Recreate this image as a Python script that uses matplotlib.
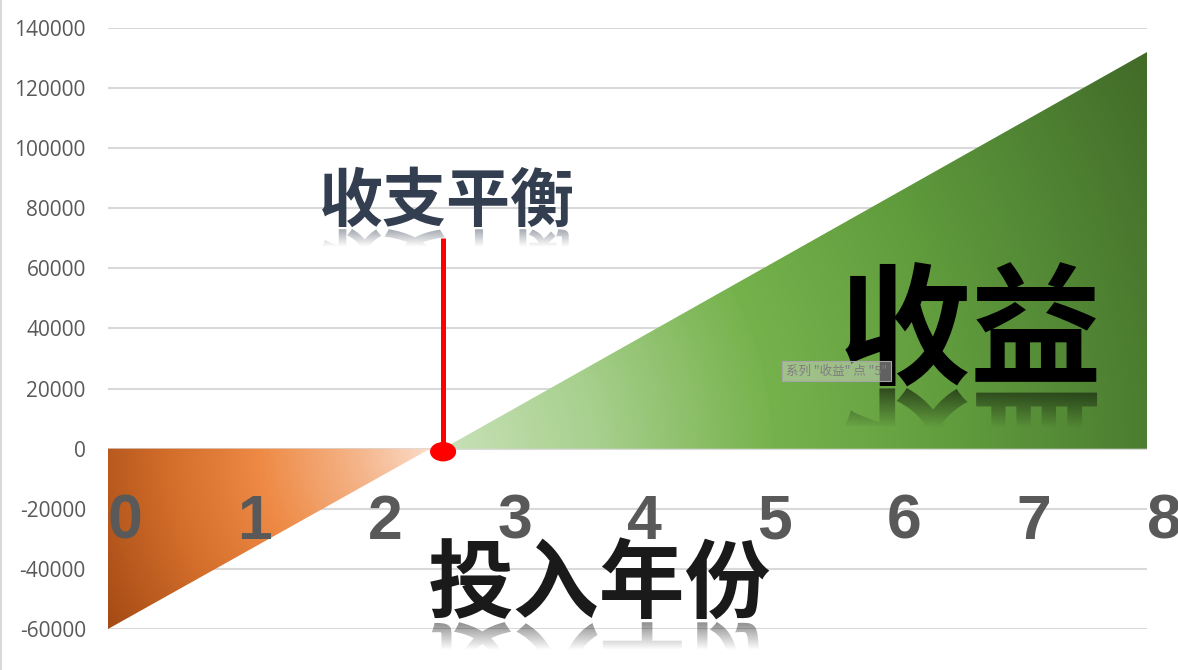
import numpy as np
import matplotlib.pyplot as plt
from matplotlib.colors import LinearSegmentedColormap, to_rgb
from matplotlib.font_manager import FontProperties
from matplotlib.patches import Ellipse, PathPatch, Polygon
from matplotlib.textpath import TextPath
from matplotlib.transforms import Affine2D, ScaledTranslation

plt.rcParams["font.family"] = ["Noto Sans CJK SC", "DejaVu Sans"]

# data
years = [0, 1, 2, 3, 4, 5, 6, 7, 8]
year_labels = ["0", "1", "2", "3", "4", "5", "6", "7", "8"]
cost_years = [0, 2.48]
cost_values = [-60000, 0]
gain_years = [2.58, 8]
gain_values = [0, 132000]
break_even_year = 2.58
break_even_top = 70000
y_ticks = [-60000, -40000, -20000, 0, 20000, 40000, 60000, 80000, 100000, 120000, 140000]

W, H = 1178, 670
DPI = 100
fig = plt.figure(figsize=(W / DPI, H / DPI), dpi=DPI)
ax = fig.add_axes([108 / W, 41 / H, 1039 / W, 601 / H])
ax.set_xlim(0, 8)
ax.set_ylim(-60000, 140000)
ax.set_yticks(y_ticks, labels=[str(v) for v in y_ticks],
              fontfamily="Open Sans", fontsize=15, color="#595959")
ax.tick_params(axis="y", length=0, pad=16)
ax.set_xticks([])
for sp in ax.spines.values():
    sp.set_visible(False)
ax.grid(axis="y", color="#D9D9D9", lw=1.5)
ax.set_axisbelow(True)


def radial_fill(verts, center, stops, zorder=2):
    poly = Polygon(verts, closed=True, facecolor="none", edgecolor="none")
    ax.add_patch(poly)
    x0, y0 = ax.transAxes.transform((0, 0))
    x1, y1 = ax.transAxes.transform((1, 1))
    nx, ny = int(x1 - x0), int(y1 - y0)
    gx, gy = np.meshgrid(np.linspace(x0, x1, nx), np.linspace(y1, y0, ny))
    cx, cy = ax.transData.transform(center)
    dmax = stops[-1][0]
    d = np.clip(np.hypot(gx - cx, gy - cy) / dmax, 0, 1)
    cmap = LinearSegmentedColormap.from_list("fill", [(p / dmax, c) for p, c in stops])
    im = ax.imshow(cmap(d), extent=(0, 8, -60000, 140000), origin="upper",
                   aspect="auto", interpolation="bilinear", zorder=zorder)
    im.set_clip_path(poly)


orange_stops = [(0, "#FBDCC8"), (70, "#F5B68C"), (170, "#EE8A45"),
                (260, "#D46E2B"), (370, "#A44A15")]
green_stops = [(0, "#C8E2B8"), (150, "#A8D08E"), (330, "#76B24C"),
               (500, "#629E3E"), (680, "#4E8132"), (810, "#426A28")]

radial_fill(list(zip(cost_years, cost_values)) + [(cost_years[0], 0)],
            (cost_years[-1], 0), orange_stops)
radial_fill(list(zip(gain_years, gain_values)) + [(gain_years[-1], 0)],
            (gain_years[0], 0), green_stops)

# break-even marker
ax.plot([break_even_year, break_even_year], [0, break_even_top],
        color="red", lw=3.6, solid_capstyle="butt", zorder=5)
ax.add_patch(Ellipse((break_even_year, -1000), 0.19, 6000, color="red", zorder=6))

# big year labels, shifted a bit right of each category
shift = ScaledTranslation(17 / DPI, 0, fig.dpi_scale_trans)
for yr, lab in zip(years, year_labels):
    ax.text(yr, -30000, lab, transform=ax.transData + shift, ha="center",
            va="baseline", fontsize=45, fontweight="bold", family="Liberation Sans",
            color="#595959", zorder=7, clip_on=False)

# overlay in pixel coords for the word art
ov = fig.add_axes([0, 0, 1, 1], zorder=10)
ov.axis("off")


def word_art(s, left, bottom, width, color, fade_len, fade_alpha, gap=2):
    prop = FontProperties(family="Noto Sans CJK SC", weight="bold")
    tp = TextPath((0, 0), s, size=100, prop=prop)
    ext = tp.get_extents()
    scale = width / ext.width
    xb = left - ext.x0 * scale
    yb = bottom + ext.y0 * scale
    p = prop.copy()
    p.set_size(100 * scale * 72 / DPI)
    ov.text(xb, yb, s, fontproperties=p, color=color, ha="left", va="baseline", zorder=3)
    # mirrored copy below, fading out
    tr = Affine2D().translate(0, -ext.y0).scale(scale, scale).translate(xb, bottom + gap)
    patch = PathPatch(tr.transform_path(tp), facecolor="none", edgecolor="none")
    ov.add_patch(patch)
    rgba = np.zeros((64, 2, 4))
    rgba[..., :3] = to_rgb(color)
    rgba[..., 3] = np.linspace(fade_alpha, 0, 64)[:, None]
    top = bottom + gap
    im = ov.imshow(rgba, extent=(left - 10, left + width + 10, top + fade_len, top),
                   origin="upper", aspect="auto", interpolation="bilinear", zorder=2)
    im.set_clip_path(patch)


word_art("收支平衡", 322, 227, 251, "#333F50", 18, 0.45)
word_art("收益", 845, 386, 252, "#000000", 40, 0.55)
word_art("投入年份", 430, 620, 340, "#1A1A1A", 28, 0.5)

ov.text(786, 371, '系列 "收益" 点 "5"', fontsize=9, color="#7F7F7F", va="center",
        zorder=5, bbox=dict(boxstyle="square,pad=0.3", fc=(0.85, 0.85, 0.85, 0.45),
                             ec="#A6A6A6", lw=0.8))

ov.plot([1, 1], [0, H], color="#D9D9D9", lw=1.5)
ov.set_xlim(0, W)
ov.set_ylim(H, 0)

fig.savefig("out.png", dpi=DPI)
